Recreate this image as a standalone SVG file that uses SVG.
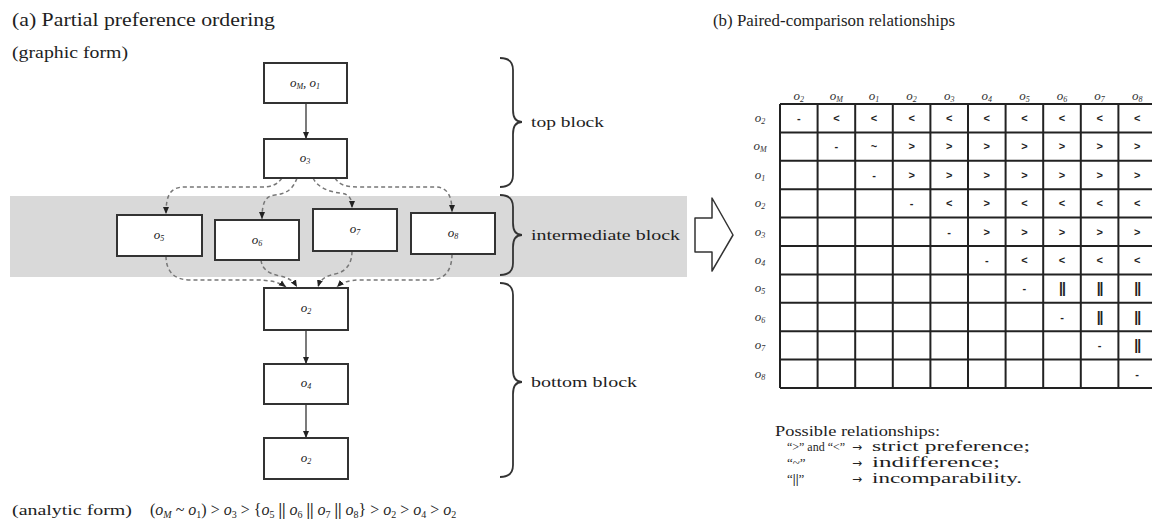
<svg xmlns="http://www.w3.org/2000/svg" width="1152" height="527" viewBox="0 0 1152 527">
<style>
.t{font-family:"Liberation Serif","Times New Roman",serif;fill:#1e1e1e}
.lbl{font-family:"Liberation Serif",serif;font-size:13px;font-style:italic;fill:#222}
.box{fill:#fff;stroke:#333;stroke-width:2}
.solid{fill:none;stroke:#333;stroke-width:1.3}
.dash{fill:none;stroke:#777;stroke-width:1.5;stroke-dasharray:4 3}
.brace{fill:none;stroke:#333;stroke-width:1.8}
.grid{stroke:#222;stroke-width:2}
.sym{font-family:"Liberation Sans",Arial,sans-serif;font-size:11px;font-weight:bold;fill:#222;text-anchor:middle}
.bar{font-family:"Liberation Sans",Arial,sans-serif;font-size:14px;font-weight:bold;fill:#222;text-anchor:middle;letter-spacing:-1px}
.hd{font-family:"Liberation Serif",serif;font-size:13px;font-style:italic;fill:#333;text-anchor:middle}
.arr{font-family:"DejaVu Sans",sans-serif;font-size:12px;fill:#222}
</style>
<defs>
<marker id="ah" markerWidth="8" markerHeight="8" refX="7" refY="4" orient="auto" markerUnits="userSpaceOnUse">
<path d="M0,1 L7,4 L0,7 Z" fill="#222"/>
</marker>
</defs>

<rect id="band" x="10" y="196" width="677" height="81" fill="#d9d9d9"/>

<text class="t" x="12" y="26" font-size="19" textLength="263" lengthAdjust="spacingAndGlyphs">(a) Partial preference ordering</text>
<text class="t" x="12" y="58" font-size="16" textLength="116" lengthAdjust="spacingAndGlyphs">(graphic form)</text>
<text class="t" x="713" y="26" font-size="17" textLength="242" lengthAdjust="spacingAndGlyphs">(b) Paired-comparison relationships</text>

<g id="connectors">
<line class="solid" x1="306" y1="103" x2="306" y2="139" marker-end="url(#ah)"/>
<line class="solid" x1="306" y1="330" x2="306" y2="364" marker-end="url(#ah)"/>
<line class="solid" x1="306" y1="404" x2="306" y2="438" marker-end="url(#ah)"/>
<path class="dash" d="M282,178 C276,186 270,187 260,187 L185,187 C170,187 166,195 166,214" marker-end="url(#ah)"/>
<path class="dash" d="M297,178 C293,190 285,194 275,195 C265,196 262,203 262,219" marker-end="url(#ah)"/>
<path class="dash" d="M313,178 C318,188 330,192 340,193 C350,194 352,199 352,208" marker-end="url(#ah)"/>
<path class="dash" d="M335,178 C340,186 348,187 360,187 L435,187 C447,187 452,195 452,212" marker-end="url(#ah)"/>
<path class="dash" d="M166,256 C166,272 175,280 190,280 L255,280 C270,280 279,282 286,287" marker-end="url(#ah)"/>
<path class="dash" d="M261,260 C262,270 270,274 280,276 C290,278 294,282 297,287" marker-end="url(#ah)"/>
<path class="dash" d="M352,251 C352,265 345,272 335,274 C325,276 320,280 318,287" marker-end="url(#ah)"/>
<path class="dash" d="M452,254 C452,270 445,280 430,280 L360,280 C348,280 341,283 337,287" marker-end="url(#ah)"/>
</g>

<g id="n-top"><rect class="box" x="264" y="63" width="83" height="40"/><text class="lbl" x="305" y="87" text-anchor="middle">o<tspan font-size="8" dy="2">M</tspan><tspan dy="-2">, o</tspan><tspan font-size="8" dy="2">1</tspan></text></g>
<g id="n-o3"><rect class="box" x="264" y="139" width="83" height="39"/><text class="lbl" x="305" y="162" text-anchor="middle">o<tspan font-size="8" dy="2">3</tspan></text></g>
<g id="n-o5"><rect class="box" x="117" y="215" width="85" height="41"/><text class="lbl" x="159" y="239" text-anchor="middle">o<tspan font-size="8" dy="2">5</tspan></text></g>
<g id="n-o6"><rect class="box" x="215" y="220" width="84" height="40"/><text class="lbl" x="257" y="244" text-anchor="middle">o<tspan font-size="8" dy="2">6</tspan></text></g>
<g id="n-o7"><rect class="box" x="313" y="209" width="84" height="42"/><text class="lbl" x="355" y="233" text-anchor="middle">o<tspan font-size="8" dy="2">7</tspan></text></g>
<g id="n-o8"><rect class="box" x="411" y="213" width="84" height="41"/><text class="lbl" x="453" y="237" text-anchor="middle">o<tspan font-size="8" dy="2">8</tspan></text></g>
<g id="n-o2a"><rect class="box" x="264" y="288" width="84" height="42"/><text class="lbl" x="306" y="312" text-anchor="middle">o<tspan font-size="8" dy="2">2</tspan></text></g>
<g id="n-o4"><rect class="box" x="264" y="364" width="84" height="40"/><text class="lbl" x="306" y="387" text-anchor="middle">o<tspan font-size="8" dy="2">4</tspan></text></g>
<g id="n-o2b"><rect class="box" x="264" y="438" width="84" height="41"/><text class="lbl" x="306" y="462" text-anchor="middle">o<tspan font-size="8" dy="2">2</tspan></text></g>

<g id="braces">
<path class="brace" d="M500,58 Q513,58 513,70 L513,110 Q513,122 522,122 Q513,122 513,134 L513,175 Q513,187 500,187"/>
<path class="brace" d="M500,195 Q513,195 513,207 L513,223 Q513,235 522,235 Q513,235 513,247 L513,263 Q513,275 500,275"/>
<path class="brace" d="M500,283 Q513,283 513,295 L513,370 Q513,382 522,382 Q513,382 513,394 L513,465 Q513,477 500,477"/>
<text class="t" x="531" y="127" font-size="15" textLength="73" lengthAdjust="spacingAndGlyphs">top block</text>
<text class="t" x="531" y="240" font-size="15" textLength="149" lengthAdjust="spacingAndGlyphs">intermediate block</text>
<text class="t" x="531" y="387" font-size="15" textLength="106" lengthAdjust="spacingAndGlyphs">bottom block</text>
</g>

<polygon id="bigarrow" points="695,218 712,218 712,198 733,235 712,271 712,252 695,252" fill="#fff" stroke="#333" stroke-width="1.5" stroke-linejoin="round"/>

<g id="table">
<g class="grid">
<line x1="780" y1="104" x2="1152" y2="104"/><line x1="780" y1="132.4" x2="1152" y2="132.4"/><line x1="780" y1="160.8" x2="1152" y2="160.8"/><line x1="780" y1="189.2" x2="1152" y2="189.2"/><line x1="780" y1="217.6" x2="1152" y2="217.6"/><line x1="780" y1="246" x2="1152" y2="246"/><line x1="780" y1="274.4" x2="1152" y2="274.4"/><line x1="780" y1="302.8" x2="1152" y2="302.8"/><line x1="780" y1="331.2" x2="1152" y2="331.2"/><line x1="780" y1="359.6" x2="1152" y2="359.6"/><line x1="780" y1="388" x2="1152" y2="388"/>
<line x1="780" y1="104" x2="780" y2="388"/><line x1="817.6" y1="104" x2="817.6" y2="388"/><line x1="855.2" y1="104" x2="855.2" y2="388"/><line x1="892.8" y1="104" x2="892.8" y2="388"/><line x1="930.4" y1="104" x2="930.4" y2="388"/><line x1="968" y1="104" x2="968" y2="388"/><line x1="1005.6" y1="104" x2="1005.6" y2="388"/><line x1="1043.2" y1="104" x2="1043.2" y2="388"/><line x1="1080.8" y1="104" x2="1080.8" y2="388"/><line x1="1118.4" y1="104" x2="1118.4" y2="388"/>
</g>
<g id="colhead">
<text class="hd" x="798.8" y="100">o<tspan font-size="8" dy="2">2</tspan></text>
<text class="hd" x="836.4" y="100">o<tspan font-size="8" dy="2">M</tspan></text>
<text class="hd" x="874" y="100">o<tspan font-size="8" dy="2">1</tspan></text>
<text class="hd" x="911.6" y="100">o<tspan font-size="8" dy="2">2</tspan></text>
<text class="hd" x="949.2" y="100">o<tspan font-size="8" dy="2">3</tspan></text>
<text class="hd" x="986.8" y="100">o<tspan font-size="8" dy="2">4</tspan></text>
<text class="hd" x="1024.4" y="100">o<tspan font-size="8" dy="2">5</tspan></text>
<text class="hd" x="1062" y="100">o<tspan font-size="8" dy="2">6</tspan></text>
<text class="hd" x="1099.6" y="100">o<tspan font-size="8" dy="2">7</tspan></text>
<text class="hd" x="1137.2" y="100">o<tspan font-size="8" dy="2">8</tspan></text>
</g>
<g id="rowhead">
<text class="hd" x="760" y="122">o<tspan font-size="8" dy="2">2</tspan></text>
<text class="hd" x="760" y="150">o<tspan font-size="8" dy="2">M</tspan></text>
<text class="hd" x="760" y="179">o<tspan font-size="8" dy="2">1</tspan></text>
<text class="hd" x="760" y="207">o<tspan font-size="8" dy="2">2</tspan></text>
<text class="hd" x="760" y="236">o<tspan font-size="8" dy="2">3</tspan></text>
<text class="hd" x="760" y="264">o<tspan font-size="8" dy="2">4</tspan></text>
<text class="hd" x="760" y="292">o<tspan font-size="8" dy="2">5</tspan></text>
<text class="hd" x="760" y="321">o<tspan font-size="8" dy="2">6</tspan></text>
<text class="hd" x="760" y="349">o<tspan font-size="8" dy="2">7</tspan></text>
<text class="hd" x="760" y="378">o<tspan font-size="8" dy="2">8</tspan></text>
</g>
<g id="cells">
<text class="sym" x="798.8" y="122">-</text><text class="sym" x="836.4" y="122">&lt;</text><text class="sym" x="874" y="122">&lt;</text><text class="sym" x="911.6" y="122">&lt;</text><text class="sym" x="949.2" y="122">&lt;</text><text class="sym" x="986.8" y="122">&lt;</text><text class="sym" x="1024.4" y="122">&lt;</text><text class="sym" x="1062" y="122">&lt;</text><text class="sym" x="1099.6" y="122">&lt;</text><text class="sym" x="1137.2" y="122">&lt;</text>
<text class="sym" x="836.4" y="150">-</text><text class="sym" x="874" y="150">~</text><text class="sym" x="911.6" y="150">&gt;</text><text class="sym" x="949.2" y="150">&gt;</text><text class="sym" x="986.8" y="150">&gt;</text><text class="sym" x="1024.4" y="150">&gt;</text><text class="sym" x="1062" y="150">&gt;</text><text class="sym" x="1099.6" y="150">&gt;</text><text class="sym" x="1137.2" y="150">&gt;</text>
<text class="sym" x="874" y="179">-</text><text class="sym" x="911.6" y="179">&gt;</text><text class="sym" x="949.2" y="179">&gt;</text><text class="sym" x="986.8" y="179">&gt;</text><text class="sym" x="1024.4" y="179">&gt;</text><text class="sym" x="1062" y="179">&gt;</text><text class="sym" x="1099.6" y="179">&gt;</text><text class="sym" x="1137.2" y="179">&gt;</text>
<text class="sym" x="911.6" y="207">-</text><text class="sym" x="949.2" y="207">&lt;</text><text class="sym" x="986.8" y="207">&gt;</text><text class="sym" x="1024.4" y="207">&lt;</text><text class="sym" x="1062" y="207">&lt;</text><text class="sym" x="1099.6" y="207">&lt;</text><text class="sym" x="1137.2" y="207">&lt;</text>
<text class="sym" x="949.2" y="236">-</text><text class="sym" x="986.8" y="236">&gt;</text><text class="sym" x="1024.4" y="236">&gt;</text><text class="sym" x="1062" y="236">&gt;</text><text class="sym" x="1099.6" y="236">&gt;</text><text class="sym" x="1137.2" y="236">&gt;</text>
<text class="sym" x="986.8" y="264">-</text><text class="sym" x="1024.4" y="264">&lt;</text><text class="sym" x="1062" y="264">&lt;</text><text class="sym" x="1099.6" y="264">&lt;</text><text class="sym" x="1137.2" y="264">&lt;</text>
<text class="sym" x="1024.4" y="292">-</text><text class="bar" x="1062" y="293">||</text><text class="bar" x="1099.6" y="293">||</text><text class="bar" x="1137.2" y="293">||</text>
<text class="sym" x="1062" y="321">-</text><text class="bar" x="1099.6" y="322">||</text><text class="bar" x="1137.2" y="322">||</text>
<text class="sym" x="1099.6" y="349">-</text><text class="bar" x="1137.2" y="350">||</text>
<text class="sym" x="1137.2" y="378">-</text>
</g>
</g>

<g id="legend" class="t" font-size="15">
<text x="775" y="436" textLength="165" lengthAdjust="spacingAndGlyphs">Possible relationships:</text>
<text x="787" y="451" font-size="13" textLength="58" lengthAdjust="spacingAndGlyphs">“&gt;” and “&lt;”</text>
<text class="arr" x="852" y="451">→</text>
<text x="872" y="451" textLength="158" lengthAdjust="spacingAndGlyphs">strict preference;</text>
<text x="787" y="467" font-size="13">“~”</text>
<text class="arr" x="852" y="467">→</text>
<text x="872" y="467" textLength="128" lengthAdjust="spacingAndGlyphs">indifference;</text>
<text x="787" y="483" font-size="13">“<tspan font-weight="bold">||</tspan>”</text>
<text class="arr" x="852" y="483">→</text>
<text x="872" y="483" textLength="150" lengthAdjust="spacingAndGlyphs">incomparability.</text>
</g>

<g id="analytic">
<text class="t" x="12" y="515" font-size="15" textLength="120" lengthAdjust="spacingAndGlyphs">(analytic form)</text>
<text class="t" x="150" y="515" font-size="16">(<tspan font-style="italic">o</tspan><tspan font-size="10" dy="3" font-style="italic">M</tspan><tspan dy="-3"> ~ </tspan><tspan font-style="italic">o</tspan><tspan font-size="10" dy="3">1</tspan><tspan dy="-3">) &gt; </tspan><tspan font-style="italic">o</tspan><tspan font-size="10" dy="3">3</tspan><tspan dy="-3"> &gt; {</tspan><tspan font-style="italic">o</tspan><tspan font-size="10" dy="3">5</tspan><tspan dy="-3" font-weight="bold"> || </tspan><tspan font-style="italic">o</tspan><tspan font-size="10" dy="3">6</tspan><tspan dy="-3" font-weight="bold"> || </tspan><tspan font-style="italic">o</tspan><tspan font-size="10" dy="3">7</tspan><tspan dy="-3" font-weight="bold"> || </tspan><tspan font-style="italic">o</tspan><tspan font-size="10" dy="3">8</tspan><tspan dy="-3">} &gt; </tspan><tspan font-style="italic">o</tspan><tspan font-size="10" dy="3">2</tspan><tspan dy="-3"> &gt; </tspan><tspan font-style="italic">o</tspan><tspan font-size="10" dy="3">4</tspan><tspan dy="-3"> &gt; </tspan><tspan font-style="italic">o</tspan><tspan font-size="10" dy="3">2</tspan></text>
</g>
</svg>
